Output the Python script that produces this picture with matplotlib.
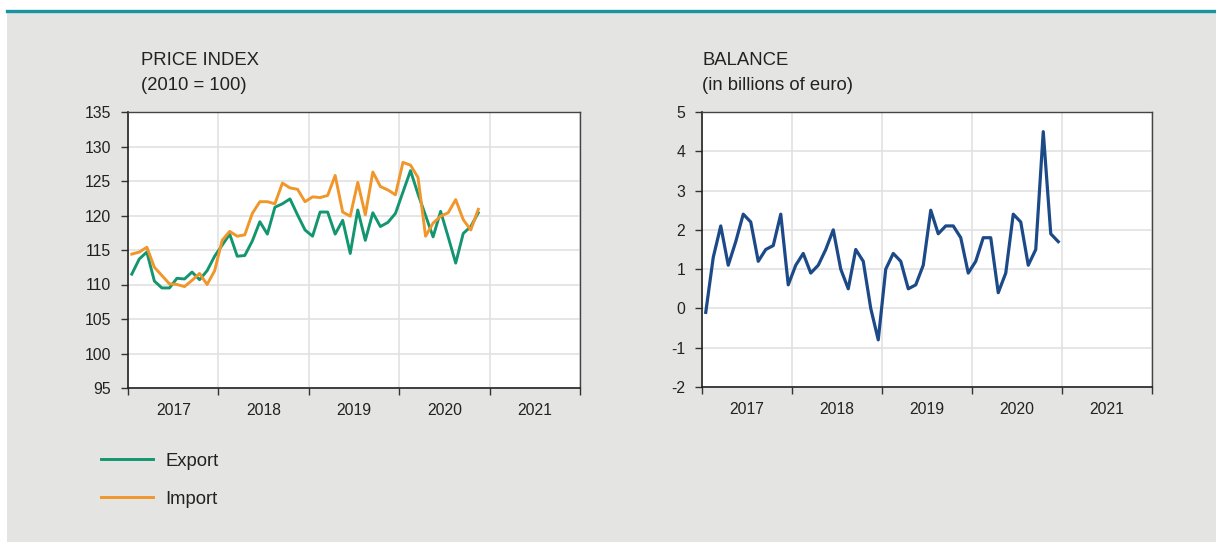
import numpy as np
import matplotlib.pyplot as plt
from matplotlib.lines import Line2D
from matplotlib.patches import Rectangle
from matplotlib.ticker import FixedLocator, NullFormatter, FixedFormatter

plt.rcParams["font.family"] = ["Liberation Sans", "DejaVu Sans"]
plt.rcParams["axes.unicode_minus"] = False

# ─── DATA (monthly, Jan 2017 onwards) ──────────────────────────────────────────
YEARS = ["2017", "2018", "2019", "2020", "2021"]

export_idx = [111.5, 113.7, 114.7, 110.5, 109.5, 109.5, 110.9, 110.8, 111.8, 110.7,
              112.0, 114.1, 115.7, 117.3, 114.1, 114.2, 116.3, 119.1, 117.3, 121.2,
              121.7, 122.4, 120.1, 117.9, 117.0, 120.5, 120.5, 117.3, 119.3, 114.5,
              120.8, 116.4, 120.4, 118.4, 119.0, 120.3, 123.4, 126.5, 123.1, 120.0,
              116.9, 120.6, 116.9, 113.1, 117.4, 118.4, 120.4]

import_idx = [114.4, 114.7, 115.4, 112.5, 111.3, 110.1, 110.0, 109.7, 110.6, 111.6,
              110.0, 112.0, 116.4, 117.7, 117.0, 117.2, 120.3, 122.0, 122.0, 121.7,
              124.7, 124.0, 123.8, 122.0, 122.7, 122.6, 122.9, 125.8, 120.5, 119.9,
              124.8, 120.1, 126.3, 124.2, 123.7, 123.0, 127.7, 127.3, 125.5, 117.0,
              118.9, 119.9, 120.4, 122.3, 119.4, 117.9, 120.9]

balance = [-0.1, 1.3, 2.1, 1.1, 1.7, 2.4, 2.2, 1.2, 1.5, 1.6, 2.4, 0.6,
           1.1, 1.4, 0.9, 1.1, 1.5, 2.0, 1.0, 0.5, 1.5, 1.2, 0.0, -0.8,
           1.0, 1.4, 1.2, 0.5, 0.6, 1.1, 2.5, 1.9, 2.1, 2.1, 1.8, 0.9,
           1.2, 1.8, 1.8, 0.4, 0.9, 2.4, 2.2, 1.1, 1.5, 4.5, 1.9, 1.7]
# ──────────────────────────────────────────────────────────────────────────────

GREEN = "#139670"
ORANGE = "#f0962a"
BLUE = "#1c4a88"
PANEL = "#e4e4e2"
TEAL = "#1a93a0"
TXT = "#222222"


def style_axis(ax, yticks):
    ax.set_facecolor("white")
    ax.set_xlim(0, 12 * len(YEARS))
    ax.set_ylim(yticks[0], yticks[-1])
    ax.set_yticks(yticks)
    ax.xaxis.set_major_locator(FixedLocator(np.arange(0, 12 * len(YEARS) + 1, 12)))
    ax.xaxis.set_major_formatter(NullFormatter())
    ax.xaxis.set_minor_locator(FixedLocator(np.arange(6, 12 * len(YEARS), 12)))
    ax.xaxis.set_minor_formatter(FixedFormatter(YEARS))
    ax.tick_params(axis="x", which="major", direction="out", length=5, width=1, color="#333333")
    ax.tick_params(axis="x", which="minor", length=0, pad=11, labelsize=11.3, labelcolor=TXT)
    ax.tick_params(axis="y", direction="out", length=5, width=1, color="#333333",
                   pad=7, labelsize=11.3, labelcolor=TXT)
    ax.grid(True, which="major", color="#e2e2e2", linewidth=1.2)
    ax.set_axisbelow(True)
    for side in ["top", "right"]:
        ax.spines[side].set_color("#444444")
        ax.spines[side].set_linewidth(1.0)
    for side in ["left", "bottom"]:
        ax.spines[side].set_color("#222222")
        ax.spines[side].set_linewidth(1.2)


fig = plt.figure(figsize=(12.16, 5.42), dpi=100)
fig.patch.set_facecolor("white")
fig.add_artist(Rectangle((7 / 1216, 0), 1, 529 / 542, transform=fig.transFigure,
                         facecolor=PANEL, edgecolor="none", zorder=-10))
fig.add_artist(Line2D([7 / 1216, 1], [531 / 542, 531 / 542], transform=fig.transFigure,
                      color=TEAL, linewidth=2.4))

# Price index
ax1 = fig.add_axes([128 / 1216, 154 / 542, 452 / 1216, 276 / 542])
months_e = np.arange(len(export_idx)) + 0.5
months_i = np.arange(len(import_idx)) + 0.5
ax1.plot(months_e, export_idx, color=GREEN, linewidth=2.1, label="Export")
ax1.plot(months_i, import_idx, color=ORANGE, linewidth=2.1, label="Import")
style_axis(ax1, np.arange(95, 136, 5))

fig.text(141 / 1216, 1 - 60 / 542, "PRICE INDEX", fontsize=13.3, color=TXT, va="center")
fig.text(141 / 1216, 1 - 85 / 542, "(2010 = 100)", fontsize=13.3, color=TXT, va="center")

# Balance
ax2 = fig.add_axes([702 / 1216, 155 / 542, 450 / 1216, 275 / 542])
months_b = np.arange(len(balance)) + 0.5
ax2.plot(months_b, balance, color=BLUE, linewidth=2.3)
style_axis(ax2, np.arange(-2, 6, 1))

fig.text(702 / 1216, 1 - 60 / 542, "BALANCE", fontsize=13.3, color=TXT, va="center")
fig.text(702 / 1216, 1 - 85 / 542, "(in billions of euro)", fontsize=13.3, color=TXT, va="center")

handles, labels = ax1.get_legend_handles_labels()
fig.legend(handles, labels, loc="upper left", bbox_to_anchor=(84 / 1216, 1 - 436 / 542),
           frameon=False, fontsize=13.3, handlelength=2.85, handletextpad=0.65,
           labelspacing=1.15, labelcolor=TXT)

fig.savefig("out.png", dpi=100, facecolor=fig.get_facecolor())
